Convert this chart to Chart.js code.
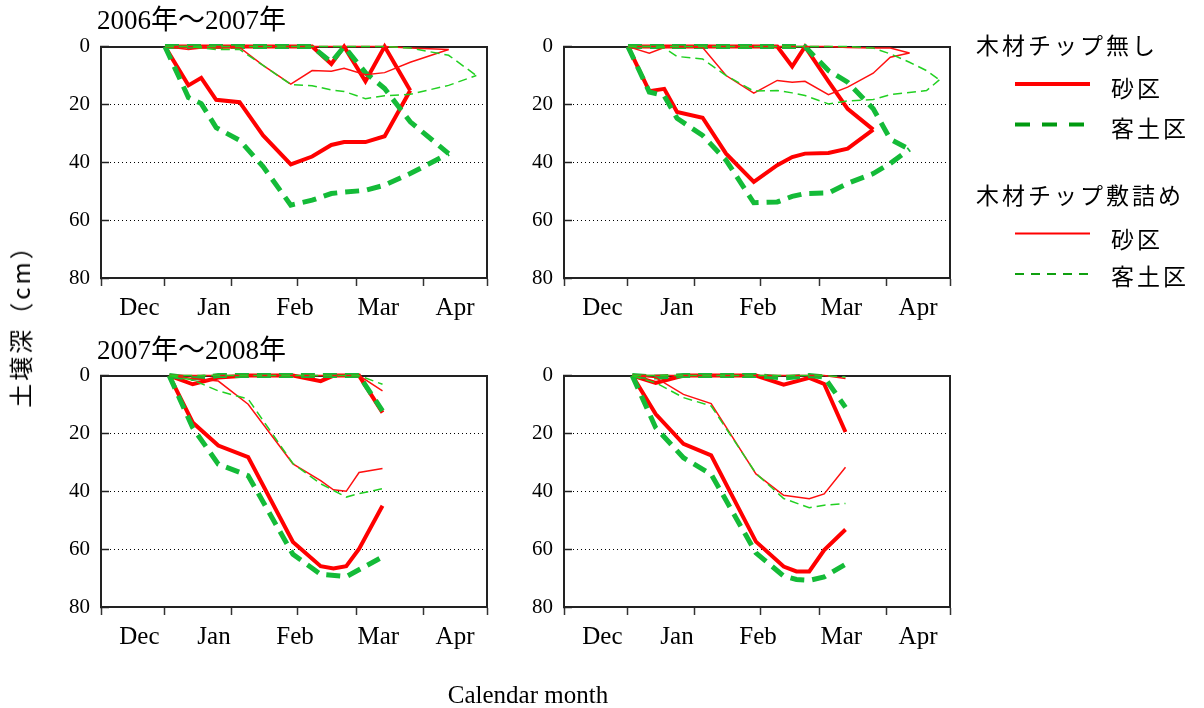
<!DOCTYPE html>
<html>
<head>
<meta charset="utf-8">
<script src="https://cdn.jsdelivr.net/npm/chart.js@4.4.1/dist/chart.umd.min.js"></script>
<style>
  body { margin: 0; background: #fff; width: 1204px; height: 708px; position: relative; overflow: hidden; }
  canvas { position: absolute; }
  .txt { position: absolute; white-space: nowrap; color: #000; }
  .title { font-family: "Liberation Serif", "Noto Sans CJK JP", serif; font-size: 27px; line-height: 30px; }
  .jp { font-family: "Noto Sans CJK JP", sans-serif; font-size: 23px; line-height: 30px; letter-spacing: 3px; }
  .serif { font-family: "Liberation Serif", serif; font-size: 25px; line-height: 30px; }
  #ytitle { left: 20px; top: 320px; transform: translate(-50%, -50%) rotate(-90deg); font-size: 24px; }
  #xtitle { left: 528px; top: 695px; transform: translate(-50%, -50%); }
  svg { position: absolute; left: 0; top: 0; }
</style>
</head>
<body>
<canvas id="panelA" width="480" height="341" style="left:30px;top:15px"></canvas>
<canvas id="panelB" width="480" height="341" style="left:493px;top:15px"></canvas>
<canvas id="panelC" width="480" height="341" style="left:30px;top:344px"></canvas>
<canvas id="panelD" width="480" height="341" style="left:493px;top:344px"></canvas>

<div class="txt title" style="left:97px;top:5px">2006年〜2007年</div>
<div class="txt title" style="left:97px;top:335px">2007年〜2008年</div>
<div class="txt jp" id="ytitle">土壌深（cm）</div>
<div class="txt serif" id="xtitle">Calendar month</div>

<svg width="1204" height="708">
  <line x1="1015" y1="84" x2="1090" y2="84" stroke="#ff0000" stroke-width="4"/>
  <line x1="1015" y1="124.5" x2="1090" y2="124.5" stroke="#009a10" stroke-width="4" stroke-dasharray="15 12"/>
  <line x1="1015" y1="233.5" x2="1090" y2="233.5" stroke="#ff0000" stroke-width="2"/>
  <line x1="1015" y1="274" x2="1090" y2="274" stroke="#10a010" stroke-width="2" stroke-dasharray="9 7"/>
</svg>
<div class="txt jp" style="left:976px;top:29px">木材チップ無し</div>
<div class="txt jp" style="left:1111px;top:72px">砂区</div>
<div class="txt jp" style="left:1111px;top:112px">客土区</div>
<div class="txt jp" style="left:976px;top:179px">木材チップ敷詰め</div>
<div class="txt jp" style="left:1111px;top:223px">砂区</div>
<div class="txt jp" style="left:1111px;top:260px">客土区</div>

<script>
// x values are days counted from 1 November
const monthStarts = [0, 30, 61, 92, 120, 151, 181];
const monthLabelDays = [18, 53, 91, 130, 166];
const monthLabels = ["Dec", "Jan", "Feb", "Mar", "Apr"];
const depthTicks = [0, 20, 40, 60, 80];

// 2006-2007, left panel
const daysA = [30, 41, 47, 54, 65, 76, 89, 99, 108, 114, 124, 133, 145, 163, 176];
const frostSandA = [0, 13.4, 10.8, 18.4, 19.2, 30.7, 40.7, 38, 34, 33, 33, 31, 15.2, null, null];
const thawSandA = [0, 0, 0, 0, 0, 0, 0, 0, 6, 0, 12, 0, 15.2, null, null];
const frostSoilA = [0, 17.6, 19.7, 28, 32.4, 41.5, 54.8, 53.1, 50.8, 50.3, 49.7, 47.9, 43.9, 37, null];
const thawSoilA = [0, 0, 0, 0, 0, 0, 0, 0, 5.4, 0, 9, 14.5, 26, 37, null];
const frostSandChipA = [0, 1, 0.5, 0.5, 0.3, 6.5, 13, 8.3, 8.5, 7.5, 9.7, 9, 5.4, 1, null];
const thawSandChipA = [0, 0, 0, 0, 0, 0, 0, 0, 0, 0, 0, 0, 0.5, 1, null];
const frostSoilChipA = [0, 0, 0.5, 1, 1, 6.5, 13.1, 13.5, 15, 15.5, 18, 17, 16.5, 13.4, 10];
const thawSoilChipA = [0, 0, 0, 0, 0, 0, 0, 0, 0, 0, 0, 0, 0.5, 3, 10];

// 2006-2007, right panel
const daysB = [30, 40, 47, 53, 65, 76, 89, 100, 107, 113, 124, 133, 145, 153, 162, 170, 176];
const frostSandB = [0, 15.4, 14.6, 22.6, 24.6, 37, 46.8, 41, 38.2, 37, 36.8, 35.3, 28.7, null, null, null, null];
const thawSandB = [0, 0, 0, 0, 0, 0, 0, 0, 6.9, 0, 12, 21.5, 28.7, null, null, null, null];
const frostSoilB = [0, 15.7, 17, 24.8, 30.7, 39.3, 54, 53.7, 51.8, 50.8, 50.6, 47.3, 43.9, 40.4, 35.5, null, null];
const thawSoilB = [0, 0, 0, 0, 0, 0, 0, 0, 0, 0, 8.3, 12.3, 21.5, 32, 35.5, null, null];
const frostSandChipB = [0, 2.3, 0.3, 0, 0.3, 10, 16.1, 11.7, 12.3, 12, 16.6, 14, 9.2, 3.7, 2.2, null, null];
const thawSandChipB = [0, 0, 0, 0, 0, 0, 0, 0, 0, 0, 0, 0.3, 0.5, 0.5, 2.2, null, null];
const frostSoilChipB = [0, 0, 0.5, 3.4, 4.3, 10, 15.4, 15.2, 16, 16.9, 19.8, 18.8, 18.3, 16.6, null, 15.2, 11.5];
const thawSoilChipB = [0, 0, 0, 0, 0, 0, 0, 0, 0, 0, 0, 0, 0.5, 2.5, 5.4, 8.3, 11.5];

// 2007-2008, left panel
const daysC = [32, 43, 55, 69, 90, 103, 109, 115, 121, 132];
const frostSandC = [0, 16.2, 24.2, 28.2, 57.5, 65.9, 66.7, 65.9, 59.9, 45];
const thawSandC = [0, 3, 0.7, 0, 0, 1.9, 0, 0, 0, 12.8];
const frostSoilC = [0, 18, 30.6, 34.6, 61.8, 68.7, null, 69.5, null, 62.7];
const thawSoilC = [0, 1, 0, 0, 0, 0, 0, 0, 0, 12.2];
const frostSandChipC = [0, 1, 1.9, 9.9, 30.5, 36.3, 39.5, 40, 33.5, 32.1];
const thawSandChipC = [0, 0, 0, 0, 0, 0, 0, 0, 0, 5.3];
const frostSoilChipC = [0, 1.5, 5.3, 8.1, 30.4, 37.4, null, 42, 40.8, 39.1];
const thawSoilChipC = [0, 0, 0, 0, 0, 0, 0, 0, 0, 3];

// 2007-2008, right panel
const daysD = [32, 43, 56, 69, 90, 103, 109, 115, 122, 132];
const frostSandD = [0, 13.3, 23.6, 27.6, 57.4, 66, 67.7, 67.7, 60.3, 53.2];
const thawSandD = [0, 2.5, 0, 0, 0, 3.1, null, 0.8, 2.9, 19.5];
const frostSoilD = [0, 18, 28.4, 34.1, 61.3, 69.3, 70.5, 70.8, 69.6, 65.2];
const thawSoilD = [0, 0.5, 0, 0, 0, 0.8, null, 0, 0.5, 11];
const frostSandChipD = [0, 0.7, 6.5, 9.7, 34, 41.4, null, 42.6, 40.9, 31.7];
const thawSandChipD = [0, 0, 0, 0, 0, 0, 0, 0, 0, 1];
const frostSoilChipD = [0, 2.5, 7.6, 10.5, 33.8, 42.5, null, 45.7, 44.8, 44.2];
const thawSoilChipD = [0, 0, 0, 0, 0, 0, 0, 0, 0, 0.5];

const styles = {
  sand: { color: "#ff0000", width: 4, dash: [] },
  soil: { color: "#14bb38", width: 5, dash: [14, 8] },
  sandChip: { color: "#ff1010", width: 1.5, dash: [] },
  soilChip: { color: "#22d022", width: 1.5, dash: [9, 5] }
};

function toPoints(days, values) {
  return days
    .map((d, i) => (values[i] == null ? null : { x: d, y: values[i] }))
    .filter(Boolean);
}

function lineDataset(days, values, style) {
  return {
    data: toPoints(days, values),
    showLine: true,
    borderColor: style.color,
    borderWidth: style.width,
    borderDash: style.dash,
    pointRadius: 0,
    fill: false,
    tension: 0,
    clip: false
  };
}

function makePanel(id, days, series) {
  // first dataset is drawn on top, so thin lines go first
  const datasets = [];
  ["soilChip", "sandChip", "soil", "sand"].forEach((key) => {
    const s = series[key];
    datasets.push(lineDataset(days, s.thaw, styles[key]));
    datasets.push(lineDataset(days, s.frost, styles[key]));
  });

  const serif = (size) => ({ family: "Liberation Serif", size });

  new Chart(document.getElementById(id), {
    type: "scatter",
    data: { datasets },
    options: {
      responsive: false,
      animation: false,
      devicePixelRatio: 1,
      layout: { padding: { top: 10, right: 23, bottom: 10, left: 0 } },
      plugins: { legend: { display: false }, tooltip: { enabled: false } },
      scales: {
        x: {
          type: "linear", axis: "x", position: "bottom", weight: 0,
          min: monthStarts[0], max: monthStarts[monthStarts.length - 1],
          afterBuildTicks: (axis) => { axis.ticks = monthStarts.map((v) => ({ value: v })); },
          afterFit: (axis) => { axis.height = 8; },
          ticks: { display: false },
          grid: { drawOnChartArea: false, drawTicks: true, tickLength: 8, tickColor: "#333", tickWidth: 1.5 },
          border: { color: "#222", width: 2 }
        },
        xl: {
          type: "linear", axis: "x", position: "bottom", weight: 1,
          min: monthStarts[0], max: monthStarts[monthStarts.length - 1],
          afterBuildTicks: (axis) => { axis.ticks = monthLabelDays.map((v) => ({ value: v })); },
          afterFit: (axis) => { axis.height = 60; },
          ticks: {
            autoSkip: false, maxRotation: 0, padding: 7, color: "#000", font: serif(25),
            callback: (value, index) => monthLabels[index]
          },
          grid: { display: false, drawTicks: false },
          border: { display: false }
        },
        xt: {
          type: "linear", axis: "x", position: "top",
          min: 0, max: 1,
          afterFit: (axis) => { axis.height = 0; },
          ticks: { display: false },
          grid: { display: false, drawTicks: false },
          border: { color: "#222", width: 2 }
        },
        y: {
          type: "linear", axis: "y", position: "left", reverse: true,
          min: depthTicks[0], max: depthTicks[depthTicks.length - 1],
          afterBuildTicks: (axis) => { axis.ticks = depthTicks.map((v) => ({ value: v })); },
          afterFit: (axis) => { axis.width = 71; },
          ticks: { padding: 19, color: "#000", font: serif(21) },
          grid: {
            color: (ctx) => (ctx.tick && ctx.tick.value > depthTicks[0] && ctx.tick.value < depthTicks[depthTicks.length - 1] ? "#000" : "rgba(0,0,0,0)"),
            lineWidth: 1, drawTicks: true, tickLength: -8, tickColor: "#222", tickWidth: 1.5
          },
          border: { color: "#222", width: 2, dash: [1, 3] }
        },
        yr: {
          type: "linear", axis: "y", position: "right",
          min: 0, max: 1,
          afterFit: (axis) => { axis.width = 0; },
          ticks: { display: false },
          grid: { display: false, drawTicks: false },
          border: { color: "#222", width: 2 }
        }
      }
    }
  });
}

makePanel("panelA", daysA, {
  sand: { frost: frostSandA, thaw: thawSandA },
  soil: { frost: frostSoilA, thaw: thawSoilA },
  sandChip: { frost: frostSandChipA, thaw: thawSandChipA },
  soilChip: { frost: frostSoilChipA, thaw: thawSoilChipA }
});
makePanel("panelB", daysB, {
  sand: { frost: frostSandB, thaw: thawSandB },
  soil: { frost: frostSoilB, thaw: thawSoilB },
  sandChip: { frost: frostSandChipB, thaw: thawSandChipB },
  soilChip: { frost: frostSoilChipB, thaw: thawSoilChipB }
});
makePanel("panelC", daysC, {
  sand: { frost: frostSandC, thaw: thawSandC },
  soil: { frost: frostSoilC, thaw: thawSoilC },
  sandChip: { frost: frostSandChipC, thaw: thawSandChipC },
  soilChip: { frost: frostSoilChipC, thaw: thawSoilChipC }
});
makePanel("panelD", daysD, {
  sand: { frost: frostSandD, thaw: thawSandD },
  soil: { frost: frostSoilD, thaw: thawSoilD },
  sandChip: { frost: frostSandChipD, thaw: thawSandChipD },
  soilChip: { frost: frostSoilChipD, thaw: thawSoilChipD }
});
</script>
</body>
</html>
